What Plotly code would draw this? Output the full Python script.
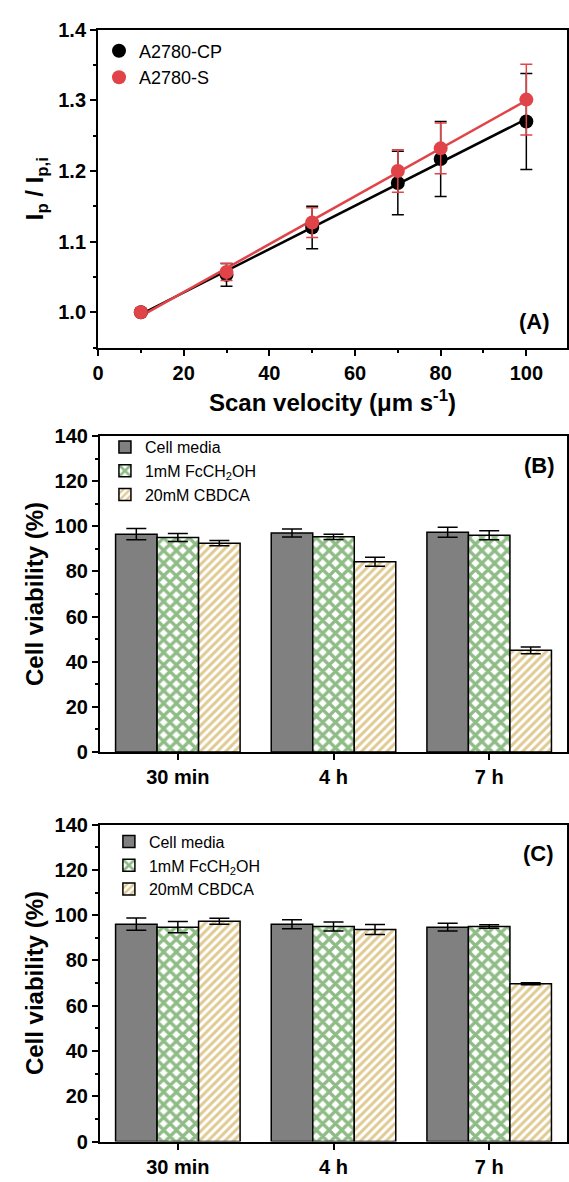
import numpy as np
import plotly.graph_objects as go

# ---------- Panel A data ----------
velocity = [10, 30, 50, 70, 80, 100]
cp_ratio = [1.000, 1.053, 1.120, 1.183, 1.217, 1.270]
cp_err = [0.0, 0.016, 0.030, 0.045, 0.053, 0.068]
s_ratio = [1.000, 1.057, 1.127, 1.200, 1.232, 1.301]
s_err = [0.0, 0.012, 0.021, 0.030, 0.036, 0.050]

# ---------- Panels B/C data ----------
times = ["30 min", "4 h", "7 h"]
series_names = ["Cell media", "1mM FcCH<sub>2</sub>OH", "20mM CBDCA"]
b_media = [96.5, 97.0, 97.3]
b_media_err = [2.5, 1.8, 2.2]
b_fc = [95.0, 95.3, 96.0]
b_fc_err = [1.8, 1.2, 2.0]
b_cbdca = [92.5, 84.3, 45.0]
b_cbdca_err = [1.2, 2.0, 1.5]
c_media = [96.0, 96.0, 94.7]
c_media_err = [2.7, 2.0, 1.7]
c_fc = [94.7, 95.0, 95.0]
c_fc_err = [2.5, 2.0, 0.8]
c_cbdca = [97.3, 93.7, 69.7]
c_cbdca_err = [1.3, 2.2, 0.4]

W, H = 569, 1182
NORM = "Liberation Sans, Arial, sans-serif"
BOLD = dict(family=NORM, size=20, color="black", weight="bold")
RED = "#e04448"

fig = go.Figure()

# Panel A: linear fits
vx = np.array(velocity, dtype=float)
for ys, col in [(cp_ratio, "black"), (s_ratio, RED)]:
    k, b = np.polyfit(vx, np.array(ys), 1)
    xx = np.array([vx.min(), vx.max()])
    fig.add_trace(go.Scatter(x=xx, y=k * xx + b, mode="lines", line=dict(color=col, width=2.5),
                             showlegend=False, xaxis="x", yaxis="y", hoverinfo="skip"))
for ys, es, col, name in [(cp_ratio, cp_err, "black", "A2780-CP"), (s_ratio, s_err, RED, "A2780-S")]:
    fig.add_trace(go.Scatter(x=velocity, y=ys, mode="markers", name=name,
                             marker=dict(color=col, size=14),
                             error_y=dict(type="data", array=es, color=col, thickness=1.5, width=6),
                             xaxis="x", yaxis="y", legend="legend"))

def bars(vals, errs, xa, ya, leg):
    specs = [
        dict(color="#808080", pattern=None),
        dict(color="white", pattern=dict(shape="x", fgcolor="#1f7a0e", bgcolor="white", size=9, solidity=0.6)),
        dict(color="white", pattern=dict(shape="/", fgcolor="#c2952a", bgcolor="white", size=6, solidity=0.5)),
    ]
    for v, e, nm, sp in zip(vals, errs, series_names, specs):
        marker = dict(color=sp["color"], line=dict(color="black", width=1.5))
        if sp["pattern"]:
            marker["pattern"] = sp["pattern"]
        fig.add_trace(go.Bar(x=times, y=v, name=nm, marker=marker,
                             error_y=dict(type="data", array=e, color="black", thickness=1.5, width=10),
                             xaxis=xa, yaxis=ya, legend=leg))

bars([b_media, b_fc, b_cbdca], [b_media_err, b_fc_err, b_cbdca_err], "x2", "y2", "legend2")
bars([c_media, c_fc, c_cbdca], [c_media_err, c_fc_err, c_cbdca_err], "x3", "y3", "legend3")

def ydom(top, bot):
    return [1 - bot / H, 1 - top / H]

axis_common = dict(showline=True, linecolor="black", linewidth=2, mirror=True, ticks="outside",
                   ticklen=6, tickwidth=2, tickcolor="black", tickfont=BOLD, showgrid=False,
                   zeroline=False)
TITLE_FONT = dict(family=NORM, size=24, color="black", weight="bold")

fig.update_layout(
    width=W, height=H, margin=dict(l=0, r=0, t=0, b=0),
    plot_bgcolor="white", paper_bgcolor="white",
    barmode="group", bargap=0.2, bargroupgap=0,
    xaxis=dict(domain=[93 / W, 567 / W], range=[0, 109.5], tick0=0, dtick=20, anchor="y",
               minor=dict(ticks="outside", ticklen=3, tickwidth=2, dtick=10, tickcolor="black"),
               title=dict(text="Scan velocity (μm s<sup>-1</sup>)", font=TITLE_FONT, standoff=12),
               **axis_common),
    yaxis=dict(domain=ydom(19, 343), range=[0.95, 1.4], dtick=0.1, tick0=1.0, tickformat=".1f", anchor="x",
               minor=dict(ticks="outside", ticklen=3, tickwidth=2, dtick=0.05, tickcolor="black"),
               title=dict(text="I<sub>p</sub> / I<sub>p,i</sub>", font=TITLE_FONT, standoff=8),
               **axis_common),
    xaxis2=dict(domain=[95 / W, 567 / W], range=[-0.5, 2.5], anchor="y2",
                minor=dict(ticks="outside", ticklen=4, tickwidth=2, tickcolor="black"),
                **axis_common),
    yaxis2=dict(domain=ydom(433, 755), range=[0, 140], dtick=20, anchor="x2",
                minor=dict(ticks="outside", ticklen=3, tickwidth=2, dtick=10, tickcolor="black"),
                title=dict(text="Cell viability (%)", font=TITLE_FONT, standoff=4),
                **axis_common),
    xaxis3=dict(domain=[95 / W, 567 / W], range=[-0.5, 2.5], anchor="y3",
                minor=dict(ticks="outside", ticklen=4, tickwidth=2, tickcolor="black"),
                **axis_common),
    yaxis3=dict(domain=ydom(829, 1152), range=[0, 140], dtick=20, anchor="x3",
                minor=dict(ticks="outside", ticklen=3, tickwidth=2, dtick=10, tickcolor="black"),
                title=dict(text="Cell viability (%)", font=TITLE_FONT, standoff=4),
                **axis_common),
    legend=dict(x=94 / W, y=1 - 22 / H, xanchor="left", yanchor="top", bgcolor="rgba(0,0,0,0)",
                font=dict(family=NORM, size=18, color="black"), tracegroupgap=0),
    legend2=dict(x=100 / W, y=1 - 427 / H, xanchor="left", yanchor="top", bgcolor="rgba(0,0,0,0)",
                 font=dict(family=NORM, size=16, color="black"), tracegroupgap=0),
    legend3=dict(x=104 / W, y=1 - 829 / H, xanchor="left", yanchor="top", bgcolor="rgba(0,0,0,0)",
                 font=dict(family=NORM, size=16, color="black"), tracegroupgap=0),
    annotations=[
        dict(text="(A)", x=552 / W, y=1 - 316 / H, xref="paper", yref="paper", xanchor="right", yanchor="middle",
             showarrow=False, font=dict(family=NORM, size=22, color="black", weight="bold")),
        dict(text="(B)", x=557 / W, y=1 - 463 / H, xref="paper", yref="paper", xanchor="right", yanchor="middle",
             showarrow=False, font=dict(family=NORM, size=22, color="black", weight="bold")),
        dict(text="(C)", x=556 / W, y=1 - 858 / H, xref="paper", yref="paper", xanchor="right", yanchor="middle",
             showarrow=False, font=dict(family=NORM, size=22, color="black", weight="bold")),
    ],
)

fig.write_html("out.html")
